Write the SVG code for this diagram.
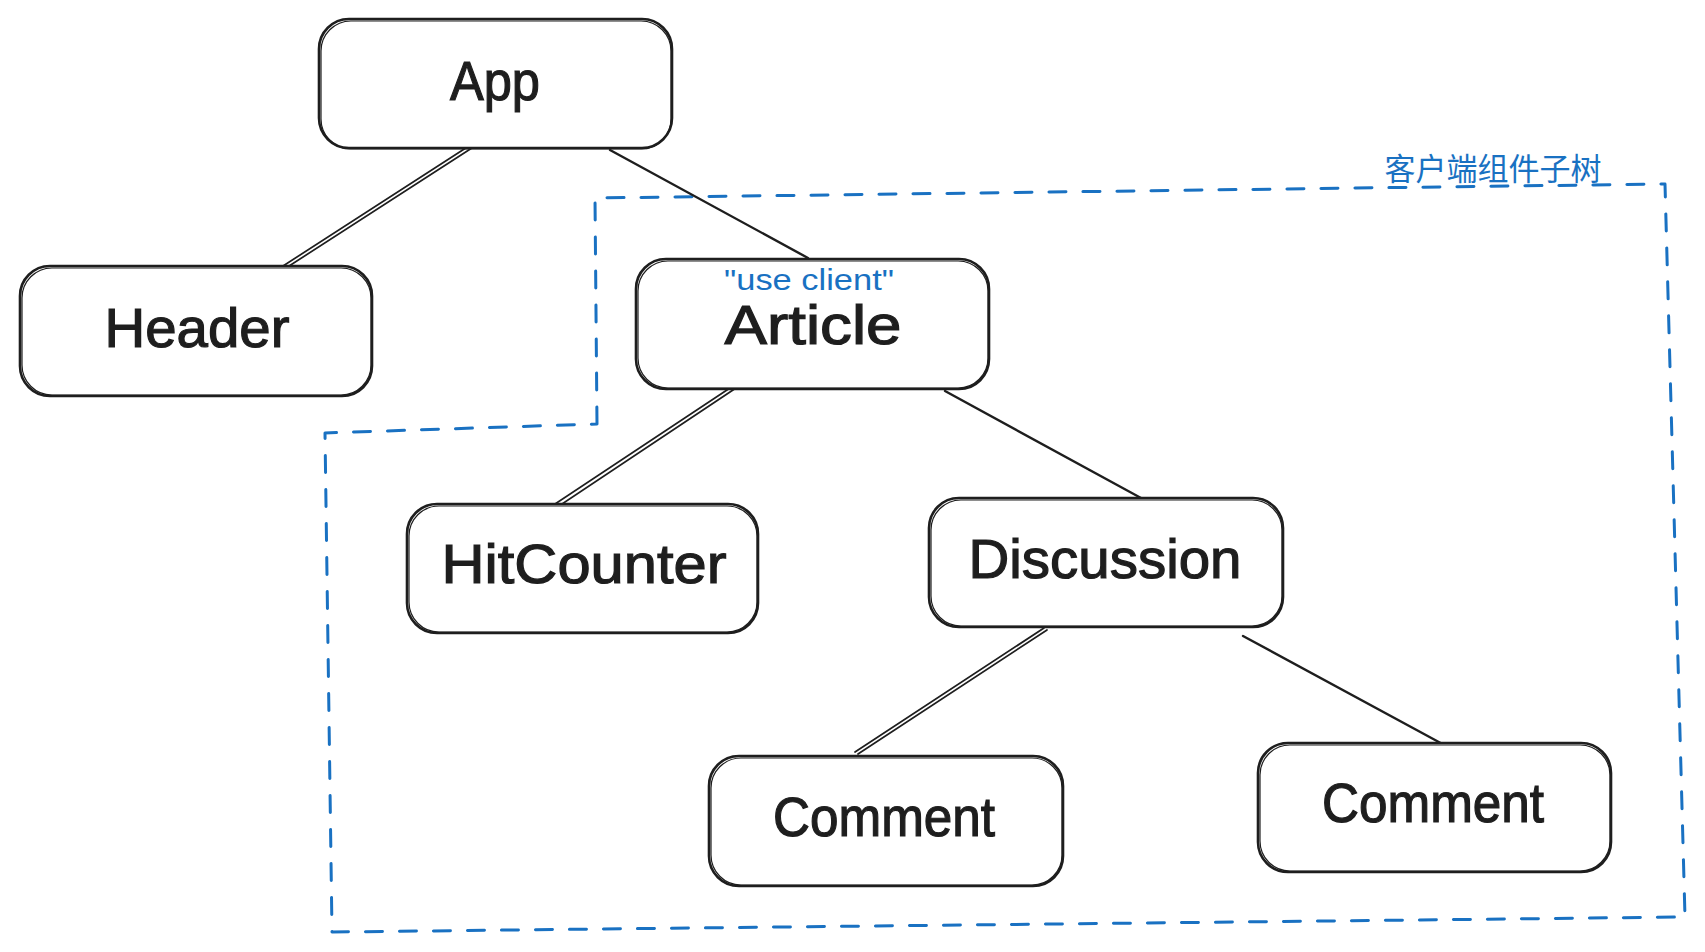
<svg xmlns="http://www.w3.org/2000/svg" width="1705" height="952" viewBox="0 0 1705 952">
<style>
.box{fill:#ffffff;stroke:#1e1e1e;stroke-width:2.6}
.box2{fill:none;stroke:#1e1e1e;stroke-width:1.2}
.lbl{font-family:"Liberation Sans",Arial,sans-serif;font-size:56px;fill:#1e1e1e;text-anchor:middle;stroke:#1e1e1e;stroke-width:1.2}
.blue{font-family:"Liberation Sans","Noto Sans CJK SC",sans-serif;fill:#1971c2;text-anchor:middle}
.edge{stroke:#1e1e1e;stroke-width:2.4;fill:none;stroke-linecap:round}
.edge2{stroke:#1e1e1e;stroke-width:1.7;fill:none;stroke-linecap:round}
.dash{fill:none;stroke:#1971c2;stroke-width:3;stroke-dasharray:17 17;stroke-linecap:round;stroke-linejoin:round}
</style>
<rect width="1705" height="952" fill="#ffffff"/>
<g id="region">
<path class="dash" d="M597,424 L595,198 L1665,184 L1685,917 L332,932 L325,433 Z"/>
<text class="blue" x="1493" y="180" font-size="31">客户端组件子树</text>
</g>
<g id="connectors">
<line class="edge2" x1="472" y1="144" x2="283" y2="266"/>
<line class="edge2" x1="475" y1="146" x2="286" y2="268"/>
<line class="edge" x1="610" y1="150" x2="808" y2="258"/>
<line class="edge2" x1="736" y1="384" x2="546" y2="510"/>
<line class="edge2" x1="739" y1="386" x2="550" y2="512"/>
<line class="edge" x1="945" y1="391" x2="1141" y2="498"/>
<line class="edge2" x1="1044" y1="628" x2="855" y2="752"/>
<line class="edge2" x1="1047" y1="630" x2="858" y2="754"/>
<line class="edge" x1="1243" y1="636" x2="1448" y2="747"/>
</g>
<g id="app">
<rect class="box" x="319" y="19" width="353" height="129" rx="30"/>
<rect class="box2" x="321" y="21" width="350" height="128" rx="30"/>
<text class="lbl" x="495" y="100" textLength="90" lengthAdjust="spacingAndGlyphs">App</text>
</g>
<g id="header">
<rect class="box" x="20" y="266" width="352" height="130" rx="30"/>
<rect class="box2" x="22" y="268" width="349" height="127" rx="30"/>
<text class="lbl" x="197" y="347" textLength="185" lengthAdjust="spacingAndGlyphs">Header</text>
</g>
<g id="article">
<rect class="box" x="636" y="259" width="353" height="130" rx="30"/>
<rect class="box2" x="638" y="261" width="350" height="127" rx="30"/>
<text class="blue" x="809" y="290" font-size="29" textLength="170" lengthAdjust="spacingAndGlyphs">"use client"</text>
<text class="lbl" x="813" y="344" font-size="54" textLength="177" lengthAdjust="spacingAndGlyphs">Article</text>
</g>
<g id="hitcounter">
<rect class="box" x="407" y="504" width="351" height="129" rx="30"/>
<rect class="box2" x="409" y="506" width="348" height="126" rx="30"/>
<text class="lbl" x="584" y="583" textLength="285" lengthAdjust="spacingAndGlyphs">HitCounter</text>
</g>
<g id="discussion">
<rect class="box" x="929" y="498" width="354" height="129" rx="30"/>
<rect class="box2" x="931" y="500" width="351" height="126" rx="30"/>
<text class="lbl" x="1105" y="578" textLength="273" lengthAdjust="spacingAndGlyphs">Discussion</text>
</g>
<g id="comment1">
<rect class="box" x="709" y="756" width="354" height="130" rx="30"/>
<rect class="box2" x="711" y="758" width="351" height="127" rx="30"/>
<text class="lbl" x="884" y="836" textLength="222" lengthAdjust="spacingAndGlyphs">Comment</text>
</g>
<g id="comment2">
<rect class="box" x="1258" y="743" width="353" height="129" rx="30"/>
<rect class="box2" x="1260" y="745" width="350" height="126" rx="30"/>
<text class="lbl" x="1433" y="822" textLength="222" lengthAdjust="spacingAndGlyphs">Comment</text>
</g>
</svg>
